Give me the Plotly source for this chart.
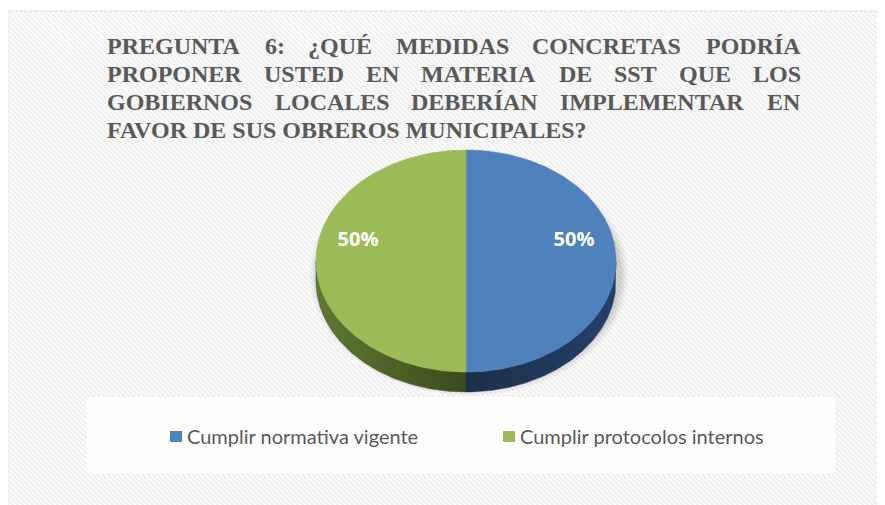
import numpy as np
import plotly.graph_objects as go

# ---------------- data ----------------
labels = ["Cumplir normativa vigente", "Cumplir protocolos internos"]
values = [50, 50]
top_colors = ["#4f81bd", "#9bbb59"]
side_scales = [
    [[0, "#1c2e48"], [1, "#26406a"]],
    [[0, "#5f7a32"], [1, "#3c4a1e"]],
]
title_lines = [
    "PREGUNTA 6: ¿QUÉ MEDIDAS CONCRETAS PODRÍA",
    "PROPONER USTED EN MATERIA DE SST QUE LOS",
    "GOBIERNOS LOCALES DEBERÍAN IMPLEMENTAR EN",
    "FAVOR DE SUS OBREROS MUNICIPALES?",
]

W, H = 885, 505
OFF = 8  # page body margin: axis coordinates equal window pixels
fig = go.Figure()

# ---------------- pie geometry (3D ellipse) ----------------
cx, cy, rx, ry, depth = 466, 261, 150, 111, 20
tot = float(sum(values))


def arc(t0, t1, n=160):
    ts = np.linspace(t0, t1, n)
    return cx + rx * np.cos(ts), cy - ry * np.sin(ts)


slices = []
cum = 0.0
for v in values:
    a0 = np.pi / 2 - 2 * np.pi * cum / tot
    a1 = a0 - 2 * np.pi * v / tot
    slices.append((a0, a1))
    cum += v

# side faces (only lower half of ellipse visible)
for i, (a0, a1) in enumerate(slices):
    lo, hi = max(a1, -np.pi), min(a0, 0.0)
    if hi <= lo:
        continue
    xs, ys = arc(lo, hi)
    px = np.concatenate([xs, xs[::-1], xs[:1]])
    py = np.concatenate([ys, ys[::-1] + depth, ys[:1]])
    fig.add_trace(go.Scatter(
        x=px, y=py, mode="lines", line=dict(width=0.5, color=side_scales[i][1][1]),
        fill="toself",
        fillgradient=dict(type="horizontal", colorscale=side_scales[i]),
        hoverinfo="skip", showlegend=False))

# top faces
for i, (a0, a1) in enumerate(slices):
    xs, ys = arc(a0, a1)
    px = np.concatenate([[cx], xs, [cx]])
    py = np.concatenate([[cy], ys, [cy]])
    fig.add_trace(go.Scatter(
        x=px, y=py, mode="lines", line=dict(width=0.6, color=top_colors[i]),
        fill="toself", fillcolor=top_colors[i],
        name=labels[i], hoverinfo="name", showlegend=False))

# data labels
lx, ly, lt = [], [], []
for (a0, a1), v in zip(slices, values):
    mid = (a0 + a1) / 2
    lx.append(cx + 0.72 * rx * np.cos(mid))
    ly.append(cy - 0.72 * ry * np.sin(mid) - 20)
    lt.append(f"{v / tot * 100:.0f}%")
fig.add_trace(go.Scatter(
    x=lx, y=ly, text=lt, mode="text",
    textfont=dict(family="Open Sans", size=20, color="white", weight="bold"),
    hoverinfo="skip", showlegend=False))

# ---------------- background, hatch, shadow, legend box ----------------
shapes = []
fx0, fy0, fx1, fy1 = 8, 11, 900, 520
shapes.append(dict(type="rect", x0=fx0, y0=fy0, x1=fx1, y1=fy1, xref="x", yref="y",
                   fillcolor="#ffffff", line=dict(color="#d9d9d9", width=1), layer="below"))
segs = []
for c in range(fx0 - fy1, fx1 - fy0, 5):
    y0 = max(fy0, fx0 - c)
    y1 = min(fy1, fx1 - c)
    if y1 > y0:
        segs.append(f"M{y0 + c},{y0}L{y1 + c},{y1}")
shapes.append(dict(type="path", path="".join(segs), xref="x", yref="y",
                   line=dict(color="#f0f0f0", width=2.4), layer="below"))

# soft shadow under the pie
for k, op in [(9, 0.05), (6, 0.07), (3, 0.09)]:
    ts = np.linspace(0, 2 * np.pi, 120)
    sx = cx + 3 + (rx + k) * np.cos(ts)
    sy = cy + depth * 0.6 + 2 - (ry + k) * np.sin(ts)
    p = "M" + "L".join(f"{a:.1f},{b:.1f}" for a, b in zip(sx, sy)) + "Z"
    shapes.append(dict(type="path", path=p, xref="x", yref="y",
                       fillcolor=f"rgba(60,60,60,{op})", line=dict(width=0), layer="below"))

# legend area
shapes.append(dict(type="rect", x0=87, y0=397, x1=835, y1=473, xref="x", yref="y",
                   fillcolor="rgba(255,255,255,0.92)", line=dict(width=0), layer="below"))

# legend entries (manual, from labels/colors)
annotations = []
leg_x = [170, 503]
for i, lab in enumerate(labels):
    shapes.append(dict(type="rect", x0=leg_x[i], y0=431, x1=leg_x[i] + 12, y1=442,
                       xref="x", yref="y", fillcolor=top_colors[i], line=dict(width=0)))
    annotations.append(dict(x=leg_x[i] + 15, y=435.5, xref="x", yref="y", text=lab,
                            showarrow=False, xanchor="left", yanchor="middle",
                            font=dict(family="Lato", size=20, color="#595959")))

# ---------------- justified title ----------------
tnr_b = {'A': 722, 'B': 667, 'C': 722, 'D': 722, 'E': 667, 'F': 611, 'G': 778, 'H': 778,
         'I': 389, 'J': 500, 'K': 778, 'L': 667, 'M': 944, 'N': 722, 'O': 778, 'P': 611,
         'Q': 778, 'R': 722, 'S': 556, 'T': 667, 'U': 722, 'V': 722, 'W': 1000, 'X': 722,
         'Y': 722, 'Z': 667, '6': 500, ':': 333, '¿': 500, '?': 500, 'É': 667, 'Í': 389}
tsize = 24
tx0, tx1 = 107, 801
title_font = dict(family="Liberation Serif, Times New Roman, serif", size=tsize,
                  color="#595959", weight="bold")
for li, line in enumerate(title_lines):
    ty = 46 + 27.9 * li
    if li == len(title_lines) - 1:
        annotations.append(dict(x=tx0 - 2, y=ty, xref="x", yref="y", text=line,
                                showarrow=False, xanchor="left", yanchor="middle",
                                font=title_font))
        continue
    words = line.split(" ")
    ws = [sum(tnr_b.get(ch, 600) for ch in w) / 1000 * tsize for w in words]
    gap = (tx1 - tx0 - sum(ws)) / (len(words) - 1)
    xpos = tx0
    for wi, (w, ww) in enumerate(zip(words, ws)):
        last = wi == len(words) - 1
        annotations.append(dict(x=(tx1 + 2) if last else (xpos - 2), y=ty, xref="x", yref="y",
                                text=w, showarrow=False,
                                xanchor="right" if last else "left", yanchor="middle",
                                font=title_font))
        xpos += ww + gap

fig.update_layout(
    width=W, height=H, margin=dict(l=0, r=0, t=0, b=0),
    paper_bgcolor="white", plot_bgcolor="white",
    xaxis=dict(range=[OFF, W + OFF], visible=False, fixedrange=True),
    yaxis=dict(range=[H + OFF, OFF], visible=False, fixedrange=True),
    shapes=shapes, annotations=annotations, showlegend=False,
)

fig.write_html("out.html")
